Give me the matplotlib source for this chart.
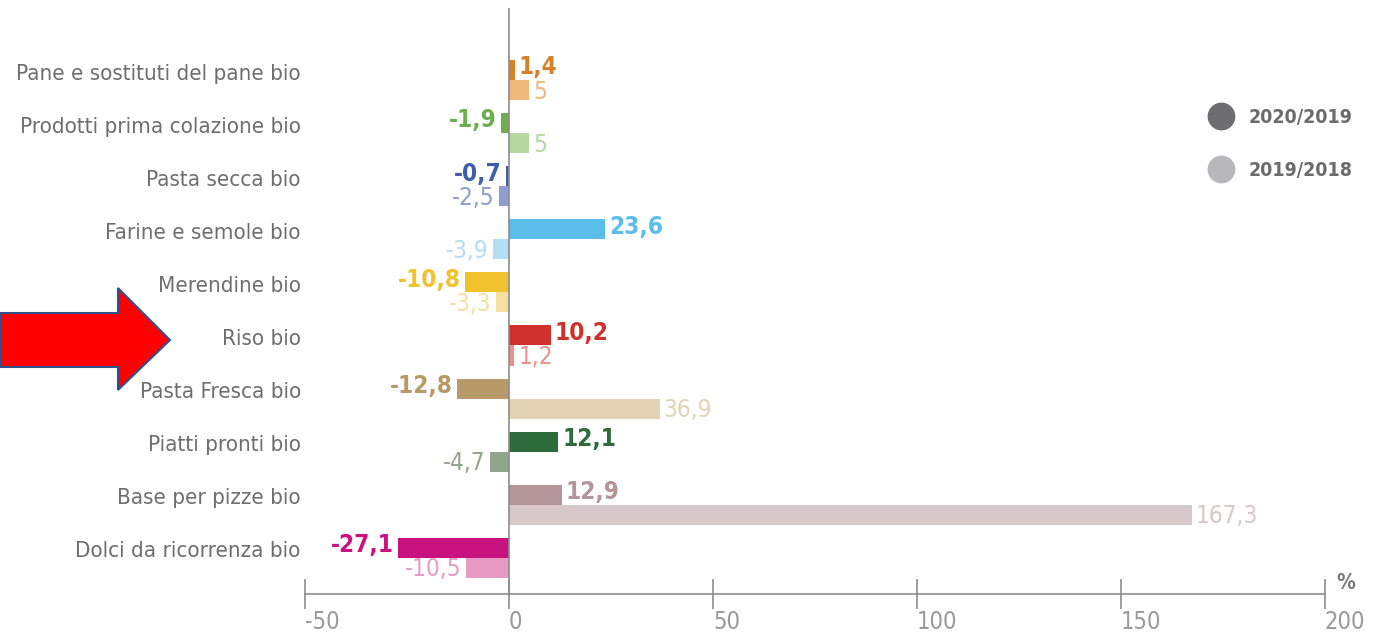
"""Variazioni % vendite prodotti bio: 2020/2019 vs 2019/2018."""

import matplotlib
matplotlib.use("Agg")
import matplotlib.pyplot as plt
from matplotlib.lines import Line2D
from matplotlib.patches import Polygon
from matplotlib import font_manager
import numpy as np

# famiglia stretta se disponibile
names = {f.name for f in font_manager.fontManager.ttflist}
narrow = [n for n in ["Liberation Sans Narrow", "DejaVu Sans Condensed"] if n in names]
plt.rcParams['font.family'] = narrow + ['DejaVu Sans']
plt.rcParams['font.stretch'] = 'condensed'

categories = [
    "Pane e sostituti del pane bio",
    "Prodotti prima colazione bio",
    "Pasta secca bio",
    "Farine e semole bio",
    "Merendine bio",
    "Riso bio",
    "Pasta Fresca bio",
    "Piatti pronti bio",
    "Base per pizze bio",
    "Dolci da ricorrenza bio",
]
var_2020_2019 = [1.4, -1.9, -0.7, 23.6, -10.8, 10.2, -12.8, 12.1, 12.9, -27.1]
var_2019_2018 = [5, 5, -2.5, -3.9, -3.3, 1.2, 36.9, -4.7, 167.3, -10.5]
series_labels = ["2020/2019", "2019/2018"]
x_ticks = [-50, 0, 50, 100, 150, 200]

dark_colors = ["#D4812A", "#6DAF4E", "#3D5FA8", "#5BBDE9", "#F2C12E",
               "#D0312D", "#B89968", "#2E6B3A", "#B3959A", "#C8127F"]
light_colors = ["#F0B87A", "#B5D9A0", "#8E9FCF", "#B5DDF5", "#F5DFA0",
                "#E9918A", "#E3D3B5", "#8FA68A", "#D7C8CA", "#E89AC5"]


def fmt(v):
    return f"{v:g}".replace(".", ",")


fig = plt.figure(figsize=(13.83, 6.41), dpi=100)
ax = fig.add_axes([305 / 1383, 1 - 594 / 641, 1020 / 1383, 586 / 641])

pos = np.arange(len(categories))
h = 0.377
grey = "#8c8c8c"

ax.barh(pos - h / 2, var_2020_2019, height=h, color=dark_colors, zorder=2)
ax.barh(pos + h / 2, var_2019_2018, height=h, color=light_colors, zorder=2)

for i in range(len(categories)):
    for v, y, c, w in [(var_2020_2019[i], pos[i] - h / 2 - 0.05, dark_colors[i], "bold"),
                       (var_2019_2018[i], pos[i] + h / 2 + 0.03, light_colors[i], "normal")]:
        off = 3 if v >= 0 else -3
        ax.annotate(fmt(v), (v, y), xytext=(off, 0), textcoords="offset points",
                    ha="left" if v >= 0 else "right", va="center",
                    fontsize=17.5, color=c, fontweight=w)

ax.axvline(0, color=grey, lw=1.2, zorder=3)
ax.set_xlim(-50, 200)
ax.set_ylim(9.68, -1.356)

for s in ["left", "right", "top"]:
    ax.spines[s].set_visible(False)
ax.spines["bottom"].set_color(grey)
ax.spines["bottom"].set_linewidth(1.2)

ax.set_xticks(x_ticks)
ax.set_xticklabels([str(t) for t in x_ticks], ha="left")
ax.tick_params(axis="x", direction="inout", length=21, width=1.2, color=grey,
               labelcolor="#9a9a9a", labelsize=17, pad=1)

ax.set_yticks(pos - 0.16)
ax.set_yticklabels(categories)
ax.tick_params(axis="y", length=0, pad=3, labelsize=16, labelcolor="#6e6e6e")

ax.annotate("%", (200, 0), xycoords=("data", "axes fraction"), xytext=(8, 1),
            textcoords="offset points", ha="left", va="bottom",
            fontsize=15, color="#777777", fontweight="bold")

handles = [Line2D([], [], marker="o", ls="", markersize=19, color="#6E6E70"),
           Line2D([], [], marker="o", ls="", markersize=19, color="#B8B8BA")]
fig.legend(handles, series_labels, loc="upper left",
           bbox_to_anchor=(1200 / 1383, 1 - 98 / 641), frameon=False,
           prop={"size": 14, "weight": "bold"}, labelcolor="#6b6b6b",
           labelspacing=1.75, handletextpad=0.8, handlelength=1.2, borderpad=0)

# freccia rossa di annotazione
pts = [(0, 313), (118, 313), (118, 288), (170, 340), (118, 390), (118, 367), (0, 367)]
arrow = Polygon([(x / 1383, 1 - y / 641) for x, y in pts], closed=True,
                facecolor="#FF0000", edgecolor="#2F528F", lw=1.5,
                transform=fig.transFigure)
fig.patches.append(arrow)

fig.savefig("out.png", dpi=100)
